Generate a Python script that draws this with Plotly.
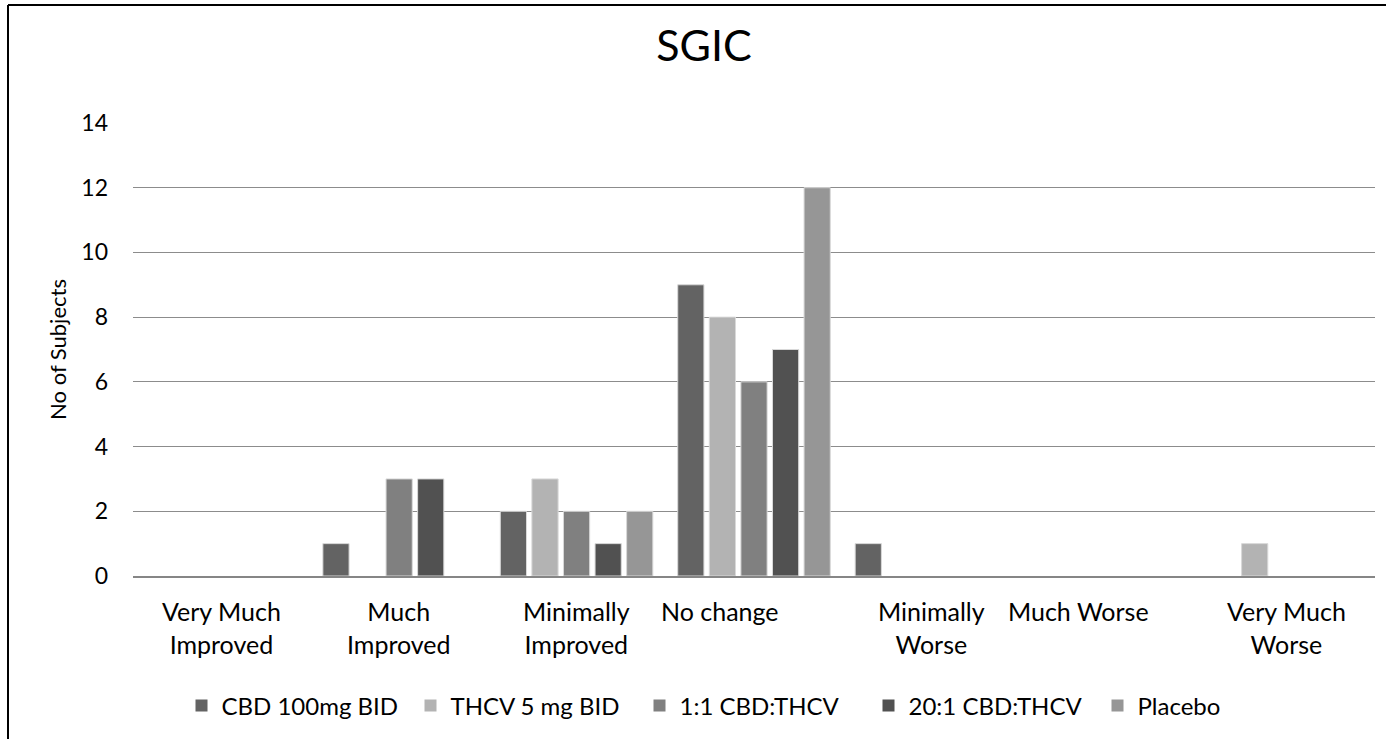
import plotly.graph_objects as go

categories = ["Very Much<br>Improved", "Much<br>Improved", "Minimally<br>Improved",
              "No change", "Minimally<br>Worse", "Much Worse", "Very Much<br>Worse"]
series_names = ["CBD 100mg BID", "THCV 5 mg BID", "1:1 CBD:THCV", "20:1 CBD:THCV", "Placebo"]
cbd_100 = [0, 1, 2, 9, 1, 0, 0]
thcv_5 = [0, 0, 3, 8, 0, 0, 1]
ratio_1_1 = [0, 3, 2, 6, 0, 0, 0]
ratio_20_1 = [0, 3, 1, 7, 0, 0, 0]
placebo = [0, 0, 2, 12, 0, 0, 0]
series_values = [cbd_100, thcv_5, ratio_1_1, ratio_20_1, placebo]
colors = ["#636363", "#b3b3b3", "#808080", "#515151", "#969696"]
y_ticks = [0, 2, 4, 6, 8, 10, 12, 14]

W, H = 1386, 739
ML, MR, MT, MB = 133, 11, 123, 163
FONT = "Lato, 'Open Sans', sans-serif"

fig = go.Figure()
for name, vals, col in zip(series_names, series_values, colors):
    fig.add_trace(go.Bar(
        x=categories, y=vals, name=name,
        marker=dict(color=col,
                    line=dict(color="#d9d9d9", width=[1 if v > 0 else 0 for v in vals])),
    ))

pw = W - ML - MR
ph = H - MT - MB
x_left = (8 - ML) / pw
x_right = (W - ML) / pw
y_top = (H - MB - 5) / ph
y_bot = -(MB) / ph

# single-line category labels sit a little left of centre in the original
label_xshift = {"No change": -34, "Much Worse": -30}
annotations = [
    dict(x=c, y=0, xref="x", yref="paper", text=c, showarrow=False,
         xanchor="center", yanchor="top", yshift=-18,
         xshift=label_xshift.get(c, 0),
         font=dict(size=25, family=FONT, color="#000000"))
    for c in categories
]

fig.update_layout(
    width=W, height=H,
    margin=dict(l=ML, r=MR, t=MT, b=MB, pad=0),
    paper_bgcolor="white", plot_bgcolor="white",
    font=dict(family=FONT, color="#000000", size=23),
    title=dict(text="SGIC", x=704 / W, xanchor="center", y=1 - 46 / H, yanchor="middle",
               font=dict(size=43, family=FONT, color="#000000")),
    barmode="group", bargap=0.11, bargroupgap=0.17,
    showlegend=True,
    legend=dict(orientation="h", x=0.5, xanchor="center", y=(-(706 - (H - MB))) / ph,
                yanchor="middle", font=dict(size=24, family=FONT), traceorder="normal",
                itemwidth=30, entrywidth=184, entrywidthmode="pixels"),
    xaxis=dict(showgrid=False, showline=True, linecolor="#868686", linewidth=2,
               ticks="", showticklabels=False),
    yaxis=dict(range=[0, 14], tickvals=y_ticks, showgrid=True, gridcolor="#8c8c8c",
               gridwidth=1, zeroline=False, showline=False, ticks="",
               tickfont=dict(size=23), ticklabelstandoff=24,
               title=dict(text="No of Subjects", font=dict(size=22), standoff=8)),
    annotations=annotations,
    shapes=[
        dict(type="line", xref="paper", yref="paper", x0=x_left, x1=x_left, y0=y_bot, y1=y_top,
             line=dict(color="#000000", width=2)),
        dict(type="line", xref="paper", yref="paper", x0=x_left, x1=x_right, y0=y_top, y1=y_top,
             line=dict(color="#000000", width=2)),
    ],
)

fig.write_html("out.html", config={"displayModeBar": False},
               post_script="document.body.style.margin='0';document.body.style.overflow='hidden';")
